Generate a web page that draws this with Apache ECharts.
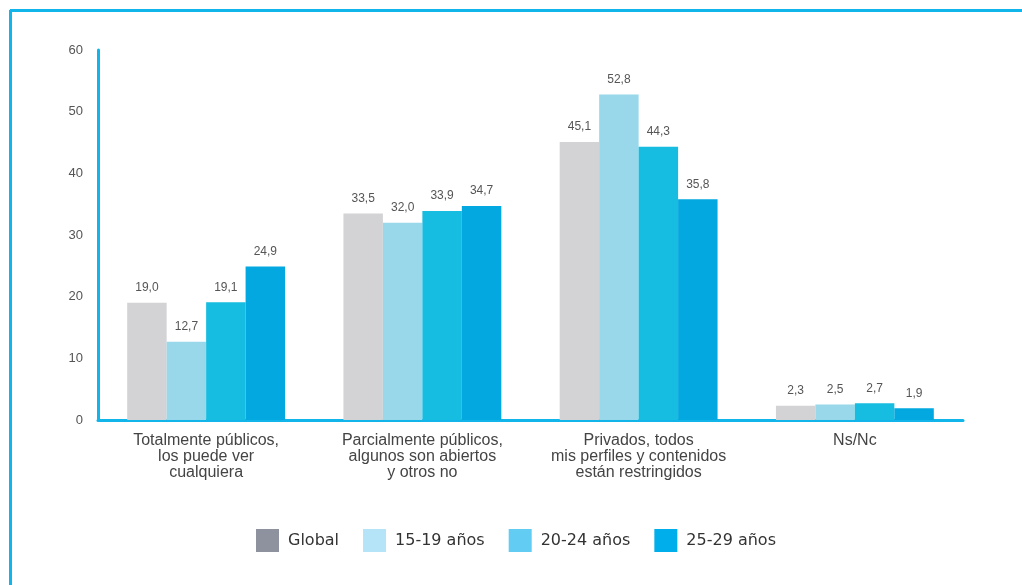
<!DOCTYPE html>
<html>
<head>
<meta charset="utf-8">
<script src="https://cdn.jsdelivr.net/npm/echarts@6/dist/echarts.min.js"></script>
<style>
  html, body { margin: 0; padding: 0; background: #fff; }
  #chart { width: 1022px; height: 585px; }
</style>
</head>
<body>
<div id="chart"></div>
<script>
const categories = [
  'Totalmente públicos,\nlos puede ver\ncualquiera',
  'Parcialmente públicos,\nalgunos son abiertos\ny otros no',
  'Privados, todos\nmis perfiles y contenidos\nestán restringidos',
  'Ns/Nc'
];
const seriesNames = ['Global', '15-19 años', '20-24 años', '25-29 años'];
const globalValues = [19.0, 33.5, 45.1, 2.3];
const age1519Values = [12.7, 32.0, 52.8, 2.5];
const age2024Values = [19.1, 33.9, 44.3, 2.7];
const age2529Values = [24.9, 34.7, 35.8, 1.9];
const yTicks = [0, 10, 20, 30, 40, 50, 60];

const barColors = ['#d3d3d6', '#98d8ea', '#17bde0', '#02a8df'];
const legendColors = ['#8e929e', '#b5e4f8', '#63ccf2', '#00aeeb'];
const allValues = [globalValues, age1519Values, age2024Values, age2529Values];

const chart = echarts.init(document.getElementById('chart'));

const series = seriesNames.map((name, i) => ({
  name,
  type: 'bar',
  data: allValues[i],
  barGap: '0%',
  barCategoryGap: '27%',
  itemStyle: { color: barColors[i] },
  label: {
    show: true,
    position: 'top',
    distance: 9,
    color: '#555',
    fontFamily: 'Liberation Sans, Arial, sans-serif',
    fontSize: 12,
    formatter: p => p.value.toFixed(1).replace('.', ',')
  }
}));

chart.setOption({
  animation: false,
  grid: { left: 98, right: 59, top: 50, bottom: 165 },
  graphic: [
    { type: 'line', shape: { x1: 10, y1: 10.5, x2: 1022, y2: 10.5 }, style: { stroke: '#12b5ea', lineWidth: 3 } },
    { type: 'line', shape: { x1: 10.5, y1: 10, x2: 10.5, y2: 585 }, style: { stroke: '#12b5ea', lineWidth: 3 } }
  ],
  legend: {
    left: 256,
    top: 529,
    padding: 0,
    itemWidth: 23,
    itemHeight: 23,
    itemGap: 24,
    icon: 'rect',
    textStyle: {
      fontFamily: 'DejaVu Sans, sans-serif',
      fontSize: 16,
      color: '#333',
      padding: [0, 0, 0, 4]
    },
    data: seriesNames.map((name, i) => ({ name, itemStyle: { color: legendColors[i] } }))
  },
  xAxis: {
    type: 'category',
    data: categories,
    axisLine: { show: true, lineStyle: { color: '#12b5ea', width: 3 } },
    axisTick: { show: false },
    axisLabel: {
      margin: 13,
      color: '#444',
      fontFamily: 'Liberation Sans, Arial, sans-serif',
      fontSize: 16,
      lineHeight: 16,
      interval: 0
    }
  },
  yAxis: {
    type: 'value',
    min: yTicks[0],
    max: yTicks[yTicks.length - 1],
    interval: 10,
    axisLine: { show: true, lineStyle: { color: '#12b5ea', width: 3 } },
    axisTick: { show: false },
    splitLine: { show: false },
    axisLabel: {
      margin: 15,
      color: '#555',
      fontFamily: 'Liberation Sans, Arial, sans-serif',
      fontSize: 13
    }
  },
  series
});
</script>
</body>
</html>
